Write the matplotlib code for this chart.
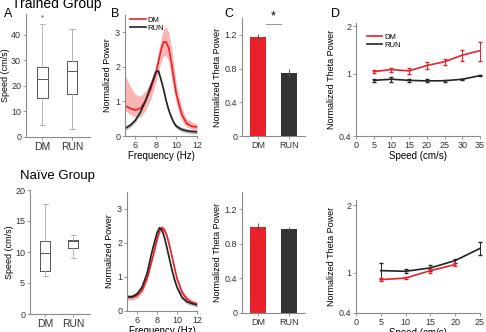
import numpy as np
import matplotlib
matplotlib.use("Agg")
import matplotlib.pyplot as plt
from matplotlib.lines import Line2D

plt.rcParams['font.family'] = ['Liberation Sans', 'DejaVu Sans']
plt.rcParams['font.size'] = 6.5

RED = '#e8212b'
BLK = '#222222'
GREY = '#8a8a8a'

# ---- panel A : speed box stats (whislo, q1, med, q3, whishi)
groups = ['DM', 'RUN']
trained_box = [[4.6, 15.1, 22.6, 27.5, 44.1], [3.0, 16.9, 25.6, 29.7, 42.0]]
trained_fliers = [[47.3], []]
naive_box = [[6.1, 7.0, 9.8, 11.7, 17.7], [9.1, 10.6, 11.8, 12.0, 12.8]]

# ---- panel B : normalized power spectra
freq = [5, 5.5, 6, 6.5, 7, 7.5, 8, 8.25, 8.5, 8.75, 9, 9.25, 9.5, 9.75, 10, 10.5, 11, 11.5, 12]
tr_dm = [0.88, 0.8, 0.75, 0.8, 1.02, 1.35, 1.82, 2.15, 2.48, 2.72, 2.72, 2.55, 2.15, 1.65, 1.2, 0.64, 0.36, 0.28, 0.26]
tr_dm_hi = [1.77, 1.45, 1.2, 1.16, 1.3, 1.58, 2.05, 2.45, 2.8, 3.12, 3.15, 3.0, 2.62, 2.05, 1.49, 0.83, 0.5, 0.4, 0.36]
tr_dm_lo = [0.74, 0.62, 0.55, 0.55, 0.74, 1.07, 1.54, 1.85, 2.15, 2.32, 2.32, 2.15, 1.68, 1.3, 0.92, 0.45, 0.26, 0.2, 0.17]
tr_run = [0.22, 0.31, 0.45, 0.69, 1.02, 1.44, 1.85, 1.88, 1.63, 1.35, 1.02, 0.75, 0.55, 0.38, 0.28, 0.19, 0.15, 0.13, 0.12]
nv_dm = [0.4, 0.4, 0.45, 0.6, 0.95, 1.5, 2.1, 2.35, 2.45, 2.38, 2.2, 1.92, 1.6, 1.27, 0.95, 0.55, 0.35, 0.25, 0.2]
nv_run = [0.42, 0.42, 0.5, 0.7, 1.1, 1.75, 2.3, 2.45, 2.38, 2.15, 1.85, 1.52, 1.2, 0.92, 0.7, 0.4, 0.27, 0.22, 0.18]

# ---- panel C : theta power bars
tr_bar = [1.17, 0.75]
tr_bar_err = [0.04, 0.04]
nv_bar = [1.0, 0.97]
nv_bar_err = [0.04, 0.03]

# ---- panel D : theta power vs speed
tr_speed = [5, 10, 15, 20, 25, 30, 35]
tr_dm_sp = [1.03, 1.06, 1.04, 1.125, 1.19, 1.31, 1.40]
tr_dm_sp_err = [0.02, 0.03, 0.04, 0.06, 0.05, 0.1, 0.2]
tr_run_sp = [0.905, 0.92, 0.905, 0.898, 0.9, 0.92, 0.97]
tr_run_sp_err = [0.02, 0.03, 0.015, 0.02, 0.015, 0.01, 0.01]
nv_speed_run = [5, 10, 15, 20, 25]
nv_run_sp = [1.03, 1.02, 1.07, 1.18, 1.36]
nv_run_sp_err = [0.12, 0.03, 0.04, 0.03, 0.1]
nv_speed_dm = [5, 10, 15, 20]
nv_dm_sp = [0.895, 0.92, 1.03, 1.12]
nv_dm_sp_err = [0.02, 0.02, 0.03, 0.02]

W, H = 486, 332
fig = plt.figure(figsize=(W / 100, H / 100), dpi=100)


def box(x0, y0, x1, y1):
    return fig.add_axes([x0 / W, 1 - y1 / H, (x1 - x0) / W, (y1 - y0) / H])


def style(ax):
    for s in ['top', 'right']:
        ax.spines[s].set_visible(False)
    for s in ['left', 'bottom']:
        ax.spines[s].set_color(GREY)
        ax.spines[s].set_linewidth(0.8)
    ax.tick_params(length=2, width=0.6, color=GREY, pad=1.5, labelsize=6.5, labelcolor='#333333')


def boxpanel(ax, stats, fliers, ylim, ticks):
    bs = []
    for st, fl, lab in zip(stats, fliers, groups):
        bs.append(dict(whislo=st[0], q1=st[1], med=st[2], q3=st[3], whishi=st[4], fliers=fl, label=lab))
    ax.bxp(bs, positions=[1, 2], widths=0.36, showfliers=True,
           boxprops=dict(color='#555555', lw=0.7), medianprops=dict(color='#555555', lw=0.7),
           whiskerprops=dict(color='#aaaaaa', lw=0.6), capprops=dict(color='#aaaaaa', lw=0.6),
           flierprops=dict(marker='+', markersize=2, markeredgecolor='#888888'))
    ax.set_xlim(0.45, 2.6)
    ax.set_ylim(*ylim)
    ax.set_yticks(ticks)
    ax.set_ylabel('Speed (cm/s)', labelpad=1)
    ax.tick_params(axis='x', length=0)
    style(ax)


def specpanel(ax, dm, run, dm_lo, dm_hi):
    ax.fill_between(freq, dm_lo, dm_hi, color='#f5a3a0', lw=0, alpha=0.8)
    ax.plot(freq, dm, color=RED, lw=1.2, label='DM')
    ax.fill_between(freq, np.array(run) - 0.06, np.array(run) + 0.06, color='#bbbbbb', lw=0)
    ax.plot(freq, run, color=BLK, lw=1.2, label='RUN')
    ax.set_xlim(5, 12)
    ax.set_ylim(0, 3.5)
    ax.set_xticks([6, 8, 10, 12])
    ax.set_yticks([0, 1, 2, 3])
    ax.set_ylabel('Normalized Power', labelpad=2)
    ax.set_xlabel('Frequency (Hz)', labelpad=0.5, fontsize=7)
    style(ax)


def barpanel(ax, vals, errs):
    ax.bar([1, 2], vals, width=0.5, color=[RED, '#333333'], yerr=errs,
           error_kw=dict(ecolor='#555555', elinewidth=0.7, capsize=0))
    ax.set_xlim(0.5, 2.5)
    ax.set_ylim(0, 1.4)
    ax.set_xticks([1, 2])
    ax.set_xticklabels(groups, fontsize=7.5)
    ax.set_yticks([0, 0.4, 0.8, 1.2])
    ax.set_yticklabels(['0', '0.4', '0.8', '1.2'])
    ax.set_ylabel('Normalized Theta Power', labelpad=2)
    ax.tick_params(axis='x', length=0)
    style(ax)


def speedline(ax, x, y, err, color):
    cont = ax.errorbar(x, y, yerr=err, color=color, lw=1.2, elinewidth=0.7, capsize=1.5)
    for art in cont.get_children():
        art.set_clip_on(False)


# top row
axA = box(26, 14, 90, 137)
boxpanel(axA, trained_box, trained_fliers, (0, 48), [0, 10, 20, 30, 40])
axA.set_xticklabels(groups, fontsize=7.5)
fig.text(57 / W, 1 - 4 / H, 'Trained Group', fontsize=10, ha='center', va='center')

axB = box(125, 15, 197, 136)
specpanel(axB, tr_dm, tr_run, tr_dm_lo, tr_dm_hi)
axB.legend(loc='upper left', frameon=False, fontsize=5.5, handlelength=2, handletextpad=0.3,
           borderaxespad=0.1, labelspacing=0.1, bbox_to_anchor=(0.02, 1.02))

axC = box(242, 18, 305, 136)
barpanel(axC, tr_bar, tr_bar_err)
axC.plot([1.25, 1.75], [1.33, 1.33], color='#999999', lw=0.8, clip_on=False)
axC.text(1.5, 1.35, '*', ha='center', va='bottom', fontsize=9)

axD = box(356, 23, 480, 136)
speedline(axD, tr_speed, tr_dm_sp, tr_dm_sp_err, RED)
speedline(axD, tr_speed, tr_run_sp, tr_run_sp_err, BLK)
axD.set_yscale('log')
axD.set_ylim(0.4, 2.1)
axD.set_yticks([0.4, 1, 2])
axD.set_yticklabels(['0.4', '1', '2'])
axD.yaxis.set_minor_locator(matplotlib.ticker.NullLocator())
axD.set_xlim(0, 35)
axD.set_xticks(range(0, 36, 5))
axD.set_ylabel('Normalized Theta Power', labelpad=2)
axD.set_xlabel('Speed (cm/s)', labelpad=0.5, fontsize=7)
style(axD)
axD.legend([Line2D([], [], color=RED, lw=1.2), Line2D([], [], color=BLK, lw=1.2)], groups,
           loc='upper left', frameon=False, fontsize=5.5, handlelength=2, handletextpad=0.3,
           labelspacing=0.1, bbox_to_anchor=(0.03, 0.97))

# bottom row
axA2 = box(30, 190, 90, 314)
boxpanel(axA2, naive_box, [[], []], (0, 20), [0, 5, 10, 15, 20])
axA2.set_xticklabels(groups, fontsize=7.5)
fig.text(57 / W, 1 - 176 / H, 'Naïve Group', fontsize=9.5, ha='center', va='center')

axB2 = box(127, 192, 197, 311)
specpanel(axB2, nv_dm, nv_run, np.array(nv_dm) - 0.08, np.array(nv_dm) + 0.08)

axC2 = box(242, 192, 305, 313)
barpanel(axC2, nv_bar, nv_bar_err)

axD2 = box(356, 200, 480, 313)
speedline(axD2, nv_speed_run, nv_run_sp, nv_run_sp_err, BLK)
speedline(axD2, nv_speed_dm, nv_dm_sp, nv_dm_sp_err, RED)
axD2.set_ylim(0.4, 2.08)
axD2.set_yticks([0.4, 1, 2])
axD2.set_yticklabels(['0.4', '1', '2'])
axD2.set_xlim(0, 25)
axD2.set_xticks(range(0, 26, 5))
axD2.set_ylabel('Normalized Theta Power', labelpad=2)
axD2.set_xlabel('Speed (cm/s)', labelpad=0.5, fontsize=7)
style(axD2)

# panel letters
for lab, x, y in [('A', 4, 14), ('B', 111, 14), ('C', 224, 14), ('D', 331, 14)]:
    fig.text(x / W, 1 - y / H, lab, fontsize=9, va='center', ha='left')

fig.savefig('out.png', dpi=100)
